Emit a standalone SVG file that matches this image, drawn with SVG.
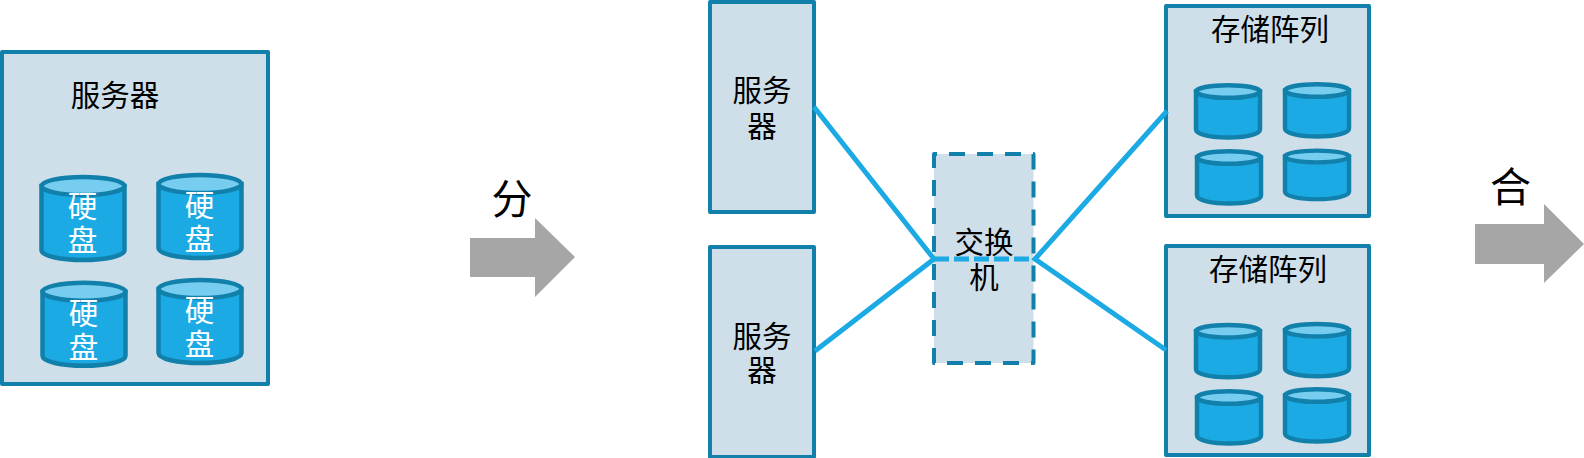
<svg xmlns="http://www.w3.org/2000/svg" width="1584" height="458" viewBox="0 0 1584 458">
<style>
.box{fill:#cfdfea;stroke:#1180aa;stroke-width:4;stroke-linejoin:round}
.dash{stroke-dasharray:16 12;stroke-dashoffset:13}
.conn{stroke:#1caae4;stroke-width:5;fill:none}
.mid{stroke-dasharray:15 5}
.cyl{fill:#1caae4;stroke:#1180aa;stroke-width:4.500}
.cap{fill:#77cdf0;stroke:#1180aa;stroke-width:4.500}
text{font-family:"Noto Sans CJK SC","Noto Sans",sans-serif;fill:#000;text-anchor:middle}
.l{font-size:29.500px}
.w{font-size:29.500px;fill:#fff}
.big{font-size:41px}
.arrow{fill:#a6a6a6}
</style>
<defs>
<g id="disk-lg"><path class="cyl" d="M0 10V74C0 80 19 84 41.500 84S83 80 83 74V10Z"/><ellipse class="cap" cx="41.500" cy="10" rx="41.500" ry="9"/></g>
<g id="disk-sm"><path class="cyl" d="M0 8V46C0 51 15 54 32 54S64 51 64 46V8Z"/><ellipse class="cap" cx="32" cy="8" rx="32" ry="6.300"/></g>
</defs>
<g id="server-main">
<rect class="box" x="2" y="52" width="266" height="332"/>
<text class="l" x="115" y="106">服务器</text>
<use href="#disk-lg" x="41.500" y="176"/><use href="#disk-lg" x="158.500" y="174"/><use href="#disk-lg" x="42.500" y="281.700"/><use href="#disk-lg" x="158.500" y="279"/>
<text class="w" x="82.500" y="217">硬<tspan x="82.500" y="251">盘</tspan></text>
<text class="w" x="199.500" y="216">硬<tspan x="199.500" y="250">盘</tspan></text>
<text class="w" x="83.500" y="324">硬<tspan x="83.500" y="358">盘</tspan></text>
<text class="w" x="199.500" y="321">硬<tspan x="199.500" y="355">盘</tspan></text>
</g>
<g id="arrow-split"><text class="big" x="512" y="214">分</text><path class="arrow" d="M470 238H535V218L575 257L535 297V277H470Z"/></g>
<g id="server-1"><rect class="box" x="710" y="2" width="104" height="210"/><text class="l" x="762" y="101">服务<tspan x="762" y="137">器</tspan></text></g>
<g id="server-2"><rect class="box" x="710" y="247" width="104" height="210"/><text class="l" x="762" y="347">服务<tspan x="762" y="381">器</tspan></text></g>
<g id="switch"><rect class="box dash" x="934" y="154" width="99.500" height="209"/><text class="l" x="984" y="253">交换<tspan x="984" y="288">机</tspan></text></g>
<g id="array-1"><rect class="box" x="1166" y="6" width="203" height="210"/><text class="l" x="1270" y="40">存储阵列</text>
<use href="#disk-sm" x="1196" y="83.500"/><use href="#disk-sm" x="1285" y="82.500"/><use href="#disk-sm" x="1197" y="149.500"/><use href="#disk-sm" transform="translate(1285 149) scale(1 .93)"/></g>
<g id="array-2"><rect class="box" x="1166" y="246" width="203" height="209"/><text class="l" x="1268" y="280">存储阵列</text>
<use href="#disk-sm" x="1196" y="323.200"/><use href="#disk-sm" x="1285" y="322.200"/><use href="#disk-sm" x="1197" y="389.500"/><use href="#disk-sm" x="1285" y="387.500"/></g>
<g id="arrow-merge"><text class="big" x="1510.500" y="202">合</text><path class="arrow" d="M1475 224H1544V204L1584 244L1544 283V264H1475Z"/></g>
<g id="connectors">
<path class="conn" d="M814 107L934 259L815 351"/>
<path class="conn" d="M1167 111L1035 259L1166 350"/>
<path class="conn mid" d="M934 259H1035"/>
</g>
</svg>
